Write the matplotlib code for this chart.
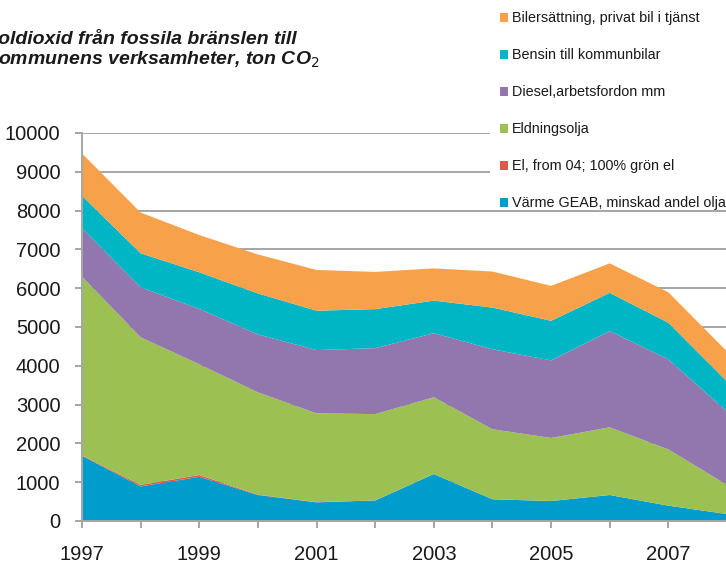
import matplotlib
matplotlib.use("Agg")
import matplotlib.pyplot as plt
from matplotlib.patches import Patch, Rectangle

# data, ton CO2 per year
years = [1997, 1998, 1999, 2000, 2001, 2002, 2003, 2004, 2005, 2006, 2007, 2008]
varme = [1680, 890, 1140, 670, 480, 530, 1210, 560, 515, 670, 395, 180]
el = [12, 40, 45, 10, 5, 0, 0, 0, 0, 0, 0, 0]
eldningsolja = [4605, 3805, 2855, 2635, 2290, 2225, 1980, 1805, 1625, 1745, 1450, 750]
diesel = [1245, 1290, 1425, 1495, 1630, 1700, 1650, 2060, 2000, 2480, 2320, 1890]
bensin = [840, 875, 945, 1055, 1015, 1005, 840, 1075, 1020, 985, 945, 775]
bilersattning = [1090, 1050, 960, 1005, 1050, 960, 830, 930, 900, 760, 785, 775]

labels = ["Värme GEAB, minskad andel olja", "El, from 04; 100% grön el",
          "Eldningsolja", "Diesel,arbetsfordon mm", "Bensin till kommunbilar",
          "Bilersättning, privat bil i tjänst"]
colors = ["#009ccb", "#e2594c", "#9dc052", "#9277af", "#00b5c4", "#f7a14b"]

yticks = list(range(0, 10001, 1000))
xticklabels = [1997, 1999, 2001, 2003, 2005, 2007]

plt.rcParams['font.family'] = ['Liberation Sans', 'DejaVu Sans']

W, H = 726, 567
fig = plt.figure(figsize=(W / 100, H / 100), dpi=100)
ax = fig.add_axes([82 / W, 1 - 521 / H, (727 - 82) / W, (521 - 133) / H])

ax.stackplot(years, varme, el, eldningsolja, diesel, bensin, bilersattning,
             colors=colors, linewidth=0, zorder=2)

ax.set_xlim(1997, 2008)
ax.set_ylim(0, 10000)
ax.set_yticks(yticks)
ax.set_xticks(years, minor=True)
ax.set_xticks(xticklabels)
ax.grid(axis="y", color="#a6a6a6", linewidth=1.4, zorder=0)
ax.set_axisbelow(True)

for s in ["top", "right"]:
    ax.spines[s].set_visible(False)
for s in ["left", "bottom"]:
    ax.spines[s].set_color("#a6a6a6")
    ax.spines[s].set_linewidth(1.4)

ax.tick_params(axis="both", which="both", color="#a6a6a6", width=1.4,
               length=5, labelsize=14.5, labelcolor="#1a1a1a")
ax.tick_params(axis="x", which="major", pad=12.5)
ax.tick_params(axis="y", pad=10.5)

# white box behind the legend hides the upper gridlines
fig.patches.append(Rectangle((490 / W, 1 - 205 / H), (W - 490) / W, 205 / H,
                             transform=fig.transFigure, facecolor="white",
                             edgecolor="none", zorder=4))

# legend, top entry = top of the stack
fs = 10.4
bp = 0.3
handles = [Patch(facecolor=c, edgecolor="none") for c in colors][::-1]
leg = fig.legend(handles, labels[::-1], loc="upper left",
                 bbox_to_anchor=((500 - bp * fs * 100 / 72) / W, 1 - 7 / H),
                 frameon=False, fontsize=fs, handlelength=0.57,
                 handleheight=0.57, handletextpad=0.25, labelspacing=1.59,
                 borderpad=bp, borderaxespad=0)
for t in leg.get_texts():
    t.set_color("#1a1a1a")
leg.set_zorder(5)

# title, first letter cut by the picture edge
fig.text(-16 / W, 1 - 44 / H, "Koldioxid från fossila bränslen till",
         fontsize=14, fontweight="bold", style="italic", color="#1a1a1a")
fig.text(-16 / W, 1 - 65 / H, "Kommunens verksamheter, ton CO$_2$",
         fontsize=14, fontweight="bold", style="italic", color="#1a1a1a")

fig.savefig("out.png", dpi=100)
